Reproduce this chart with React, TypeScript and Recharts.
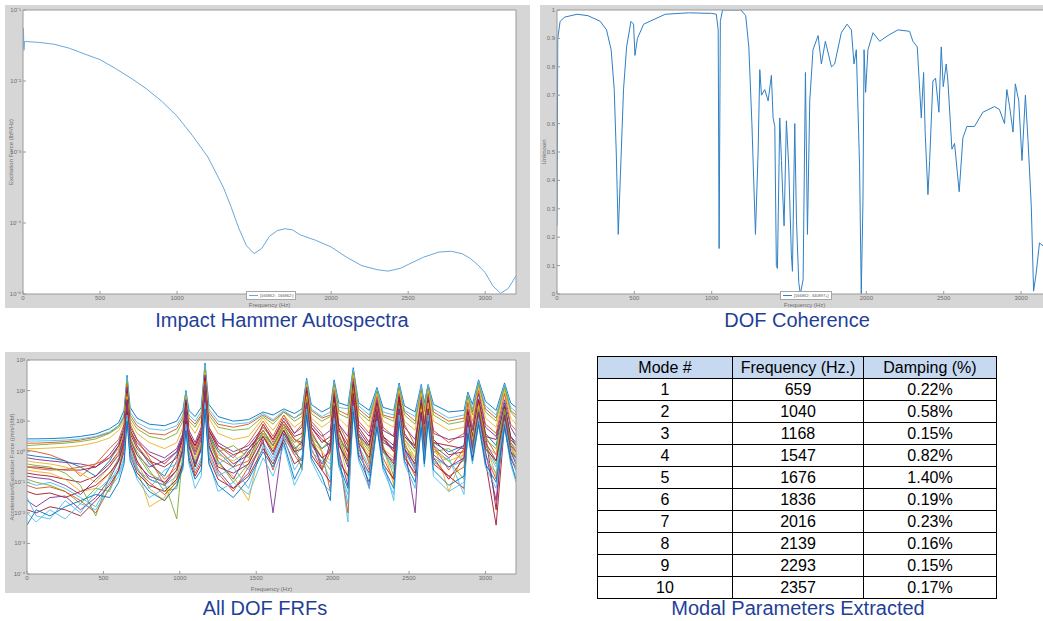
import { LineChart, Line, XAxis, YAxis, CartesianGrid, Legend } from "recharts";

const FONT = '"Liberation Sans", Arial, sans-serif';
const AXIS = "#9a9a9a";
const TICK_FILL = "#6e6e6e";
const PANEL = "#d6d6d6";
const TITLE = "#1f3f99";

const FREQ_TICKS = [0, 500, 1000, 1500, 2000, 2500, 3000];

// impact hammer autospectrum, lbf^2/Hz
const AUTO_FREQ = [
  0, 3, 6, 10, 100, 200, 300, 400, 500, 600,
  700, 800, 900, 1000, 1100, 1200, 1300, 1350, 1400, 1450,
  1500, 1550, 1600, 1650, 1700, 1750, 1800, 1900, 2000, 2100,
  2200, 2300, 2370, 2450, 2500, 2600, 2700, 2780, 2850, 2900,
  2950, 3000, 3050, 3100, 3150, 3200,
];
const AUTO_POWER = [
  0.03, 0.055, 0.027, 0.036, 0.035, 0.033, 0.029, 0.024, 0.02, 0.015,
  0.011, 0.0078, 0.0052, 0.0032, 0.0017, 0.00085, 0.00032, 0.00017, 0.000085, 0.000048,
  0.000037, 0.000044, 0.000065, 0.000078, 0.000083, 0.00008, 0.000068, 0.000057, 0.000046, 0.000033,
  0.000025, 0.000022, 0.000021, 0.000023, 0.000026, 0.000033, 0.000039, 0.00004, 0.000037, 0.000032,
  0.000026, 0.00002, 0.000013, 0.0000102, 0.000012, 0.000018,
];
const AUTO_TICKS = [1e-5, 1e-4, 1e-3, 1e-2, 1e-1];

// DOF coherence
const COH_FREQ = [
  0, 5, 20, 50, 130, 200, 280, 320, 350, 370,
  383, 396, 410, 430, 450, 478, 495, 504, 520, 560,
  700, 850, 1000, 1030, 1042, 1048, 1056, 1070, 1190, 1220,
  1240, 1260, 1283, 1300, 1311, 1322, 1343, 1365, 1386, 1397,
  1408, 1418, 1425, 1440, 1451, 1461, 1468, 1483, 1498, 1515,
  1522, 1537, 1548, 1563, 1573, 1591, 1606, 1619, 1634, 1655,
  1688, 1709, 1735, 1774, 1795, 1838, 1875, 1903, 1920, 1935,
  1956, 1967, 1978, 1985, 1995, 2010, 2043, 2086, 2139, 2204,
  2279, 2301, 2329, 2355, 2370, 2380, 2398, 2409, 2430, 2447,
  2469, 2484, 2497, 2516, 2527, 2553, 2570, 2600, 2624, 2650,
  2699, 2753, 2828, 2860, 2893, 2908, 2926, 2948, 2963, 2985,
  3006, 3028, 3045, 3066, 3081, 3097, 3119, 3140, 3170, 3200,
];
const COH_VALUE = [
  0.24, 0.9, 0.96, 0.975, 0.985, 0.98, 0.96, 0.93, 0.86, 0.72,
  0.5, 0.21, 0.42, 0.72, 0.87, 0.96, 0.95, 0.84, 0.9, 0.95,
  0.985, 0.99, 0.988, 0.985, 0.93, 0.16, 0.96, 1.0, 1.0, 0.98,
  0.87, 0.6, 0.21, 0.5, 0.79, 0.7, 0.72, 0.68, 0.77, 0.62,
  0.59, 0.1, 0.09, 0.62, 0.47, 0.33, 0.24, 0.61, 0.45, 0.14,
  0.08, 0.6, 0.26, 0.04, 0.0, 0.05, 0.78, 0.21, 0.68, 0.86,
  0.91, 0.81, 0.89, 0.8, 0.81, 0.92, 0.95, 0.93, 0.81, 0.86,
  0.45, 0.0, 0.33, 0.86, 0.71, 0.86, 0.92, 0.89, 0.91, 0.93,
  0.925, 0.89, 0.87, 0.62, 0.78, 0.57, 0.35, 0.47, 0.75, 0.76,
  0.64, 0.87, 0.73, 0.81, 0.75, 0.51, 0.53, 0.36, 0.55, 0.59,
  0.59, 0.64, 0.66, 0.65, 0.6, 0.72, 0.66, 0.57, 0.74, 0.68,
  0.47, 0.7, 0.54, 0.31, 0.01, 0.07, 0.18, 0.17, 0.2, 0.22,
];
const COH_TICKS = [0, 0.1, 0.2, 0.3, 0.4, 0.5, 0.6, 0.7, 0.8, 0.9, 1];

// FRFs: log10 of magnitude, one array per drawn DOF
const FRF_FREQ = [
  0, 60, 150, 250, 350, 450, 540, 600, 635, 655,
  675, 720, 800, 900, 980, 1020, 1040, 1060, 1100, 1140,
  1165, 1190, 1250, 1350, 1450, 1545, 1610, 1680, 1750, 1800,
  1830, 1860, 1930, 1985, 2010, 2040, 2100, 2135, 2170, 2240,
  2290, 2330, 2400, 2435, 2470, 2540, 2580, 2600, 2625, 2660,
  2760, 2860, 2885, 2915, 2955, 3000, 3070, 3125, 3165, 3200,
];
const frfBlueA = [
  0.35, 0.35, 0.36, 0.38, 0.42, 0.5, 0.65, 0.85, 1.2, 2.45,
  1.3, 0.95, 0.75, 0.7, 0.85, 1.2, 1.95, 1.2, 1.0, 1.3,
  2.85, 1.4, 1.0, 0.9, 0.95, 1.25, 1.05, 1.35, 1.1, 1.3,
  2.35, 1.4, 1.15, 1.3, 2.3, 1.45, 1.4, 2.7, 1.5, 1.2,
  2.05, 1.3, 1.2, 2.2, 1.35, 1.15, 2.15, 1.5, 2.2, 1.4,
  1.1, 1.2, 1.9, 1.4, 2.3, 1.5, 1.2, 2.2, 1.45, 1.3,
];
const frfOrangeA = [
  -0.5, -0.55, -0.6, -0.58, -0.5, -0.4, -0.2, 0.1, 0.6, 1.9,
  0.7, 0.2, -0.3, -0.9, -0.5, 0.3, 1.5, 0.5, 0.0, 0.5,
  2.3, 0.6, -0.2, -0.5, -0.3, 0.9, 0.3, 1.0, 0.4, 0.2,
  1.9, 0.7, 0.0, -1.3, 1.6, 0.6, -0.2, 2.1, 0.6, -0.4,
  1.5, 0.4, 0.0, 1.6, 0.3, -0.5, 1.5, 0.6, 1.5, 0.2,
  -0.6, 0.1, 1.2, 0.3, 1.6, 0.5, -0.1, 1.4, 0.3, 0.0,
];
const frfYellowA = [
  -0.3, -0.35, -0.4, -0.5, -0.7, -1.0, -0.5, 0.0, 0.6, 1.8,
  0.5, -0.3, -1.2, -1.6, -0.9, 0.1, 1.4, 0.4, -0.2, 0.3,
  2.1, 0.4, -0.4, -0.8, -1.6, 0.6, 0.1, 0.8, 0.3, 0.5,
  1.8, 0.6, -0.5, 0.2, 1.5, 0.4, -0.9, 1.9, 0.5, 0.1,
  1.4, 0.2, -1.1, 1.5, 0.4, -0.2, 1.4, 0.2, 1.6, 0.3,
  -1.3, 0.0, 1.1, 0.4, 1.5, 0.3, -0.8, 1.3, 0.2, -0.2,
];
const frfPurpleA = [
  -1.6, -1.8, -1.5, -1.45, -1.9, -1.5, -0.9, -0.3, 0.4, 1.6,
  0.2, -0.4, -0.8, -1.0, -0.6, 0.0, 1.3, 0.2, -0.4, 0.1,
  1.9, 0.2, -0.6, -1.2, -0.7, 0.4, -2.0, 0.6, 0.0, -0.3,
  1.6, 0.3, -0.4, 0.1, 1.4, 0.0, -1.1, 1.7, 0.3, -1.2,
  1.2, 0.0, -0.3, 1.4, 0.1, -0.6, 1.2, 0.0, 1.3, -0.1,
  -0.5, -0.2, 1.0, 0.1, 1.3, 0.0, -1.6, 1.2, 0.0, -0.4,
];
const frfGreenA = [
  -0.9, -1.0, -1.1, -1.3, -1.7, -1.2, -1.3, -0.6, 0.3, 1.7,
  0.4, 0.0, -0.6, -1.3, -1.2, -0.3, 1.2, 0.3, -0.5, 0.2,
  2.0, 0.3, -0.3, -1.0, -0.4, 0.7, 0.2, 0.9, 0.0, 0.4,
  1.7, 0.4, -0.2, -0.6, 1.5, 0.5, -0.4, 1.8, 0.4, -0.3,
  1.3, 0.1, -0.5, 1.5, 0.2, -0.3, 1.3, 0.3, 1.4, 0.1,
  -0.3, -0.9, 1.0, 0.2, 1.4, 0.2, -0.4, 1.3, 0.1, -0.2,
];
const frfCyanA = [
  -1.5, -2.1, -2.2, -1.6, -2.0, -1.3, -0.9, -0.7, -0.2, 1.2,
  -0.1, -0.6, -0.9, -1.1, -0.8, -0.3, 0.9, -0.1, -0.6, -0.2,
  1.6, -0.1, -0.8, -0.5, -1.2, 0.2, -0.3, 0.5, -0.6, -0.2,
  1.4, 0.0, -0.3, -0.9, 1.1, -0.2, -1.7, 1.5, 0.0, -0.8,
  1.0, -0.3, -1.6, 1.2, 0.0, -0.6, 1.0, -0.2, 1.2, -0.4,
  -0.2, -1.4, 0.8, -0.1, 1.1, -0.2, -0.7, 1.0, -0.1, -0.6,
];
const frfRedA = [
  -0.7, -0.75, -0.8, -0.9, -1.0, -0.8, -0.4, 0.0, 0.5, 1.9,
  0.6, 0.1, -0.3, -0.5, -0.2, 0.4, 1.6, 0.5, 0.2, 0.6,
  2.4, 0.7, 0.1, -0.4, -0.1, 0.9, 0.4, 1.0, 0.5, 0.6,
  2.0, 0.8, 0.3, 0.5, 1.8, 0.8, 0.0, 2.2, 0.7, 0.2,
  1.6, 0.5, 0.2, 1.8, 0.6, 0.1, 1.6, 0.7, 1.7, 0.4,
  -0.1, 0.0, 1.3, 0.5, 1.7, 0.6, -1.9, 1.5, 0.4, 0.2,
];
const frfBlueB = [
  0.42, 0.42, 0.43, 0.45, 0.5, 0.58, 0.75, 0.95, 1.35, 2.5,
  1.45, 1.1, 0.9, 0.85, 1.0, 1.35, 2.0, 1.35, 1.15, 1.45,
  2.9, 1.55, 1.15, 1.0, 1.05, 1.3, 1.2, 1.4, 1.25, 1.4,
  2.4, 1.55, 1.3, 1.45, 2.35, 1.6, 1.5, 2.75, 1.6, 1.35,
  2.1, 1.45, 1.35, 2.25, 1.5, 1.3, 2.2, 1.6, 2.2, 1.55,
  1.3, 1.35, 1.95, 1.55, 2.35, 1.65, 1.35, 2.25, 1.6, 1.45,
];
const frfOrangeB = [
  -1.1, -1.2, -1.15, -1.3, -1.6, -2.0, -1.2, -0.6, 0.2, 1.5,
  0.0, -0.6, -1.0, -1.4, -1.0, -0.4, 1.1, 0.0, -0.7, -0.3,
  1.7, 0.0, -0.7, -1.3, -0.5, 0.3, -0.6, 0.5, -0.1, -0.5,
  1.5, 0.1, -0.6, 0.0, 1.2, -0.1, -2.0, 1.6, 0.1, -0.6,
  1.1, -0.2, -0.9, 1.3, -0.1, -0.8, 1.1, -0.1, 1.2, -0.3,
  -0.8, -0.5, 0.9, 0.0, 1.2, -0.1, -0.9, 1.1, -0.2, -0.5,
];
const frfYellowB = [
  0.1, 0.1, 0.12, 0.15, 0.2, 0.3, 0.45, 0.7, 1.0, 2.2,
  1.0, 0.6, 0.3, 0.1, 0.3, 0.8, 1.8, 0.9, 0.6, 1.0,
  2.6, 1.1, 0.6, 0.4, 0.5, 1.1, 0.7, 1.2, 0.8, 1.0,
  2.2, 1.1, 0.8, 1.0, 2.1, 1.1, 0.8, 2.5, 1.2, 0.8,
  1.9, 1.0, 0.8, 2.0, 1.0, 0.7, 1.9, 1.1, 2.0, 1.0,
  0.7, 0.8, 1.7, 1.0, 2.1, 1.1, 0.8, 2.0, 1.1, 0.9,
];
const frfPurpleB = [
  -0.2, -0.25, -0.3, -0.35, -0.4, -0.5, -0.1, 0.3, 0.8, 2.1,
  0.8, 0.4, 0.0, -0.2, 0.1, 0.6, 1.7, 0.7, 0.3, 0.8,
  2.5, 0.8, 0.3, 0.0, 0.2, 0.8, 0.4, 1.1, 0.6, 0.8,
  2.1, 0.9, 0.5, 0.7, 1.9, 0.9, 0.5, 2.3, 0.9, 0.5,
  1.7, 0.7, 0.5, 1.8, 0.8, 0.4, 1.7, 0.9, 1.8, 0.6,
  0.4, 0.5, 1.4, 0.7, 1.9, 0.8, 0.5, 1.7, 0.8, 0.5,
];
const frfGreenB = [
  0.2, 0.22, 0.25, 0.28, 0.33, 0.42, 0.6, 0.8, 1.1, 2.3,
  1.1, 0.75, 0.5, 0.4, 0.6, 1.0, 1.85, 1.0, 0.8, 1.15,
  2.7, 1.2, 0.8, 0.7, 0.75, 1.15, 0.9, 1.3, 1.0, 1.15,
  2.25, 1.25, 1.0, 1.15, 2.2, 1.25, 1.1, 2.6, 1.3, 1.0,
  1.95, 1.15, 1.0, 2.1, 1.2, 0.9, 2.0, 1.3, 2.1, 1.2,
  0.9, 1.0, 1.8, 1.2, 2.2, 1.3, 1.0, 2.1, 1.3, 1.1,
];
const frfCyanB = [
  -2.4, -1.9, -2.1, -1.8, -1.6, -1.4, -1.5, -1.0, -0.4, 1.0,
  -0.3, -0.8, -1.3, -1.6, -1.1, -0.5, 0.7, -0.3, -0.9, -0.6,
  1.4, -0.4, -1.1, -1.5, -0.9, 0.0, -0.5, 0.3, -0.9, -0.4,
  1.2, -0.2, -0.8, -1.6, 0.9, -0.4, -1.2, 1.3, -0.2, -1.0,
  0.8, -0.5, -1.2, 1.0, -0.3, -1.0, 0.8, -0.4, 1.0, -0.6,
  -1.1, -0.8, 0.6, -0.3, 0.9, -0.4, -1.0, 0.8, -0.3, -0.9,
];
const frfRedB = [
  -0.5, -0.5, -0.55, -0.6, -0.6, -0.5, -0.2, 0.2, 0.7, 2.0,
  0.7, 0.3, -0.1, -0.4, 0.0, 0.5, 1.6, 0.6, 0.2, 0.7,
  2.4, 0.7, 0.2, -0.1, 0.1, 0.7, 0.2, 0.9, 0.4, 0.3,
  1.9, 0.8, 0.4, 0.2, 1.7, 0.7, 0.2, 2.1, 0.8, 0.3,
  1.5, 0.5, 0.0, 1.7, 0.5, 0.2, 1.5, -0.3, 1.6, 0.3,
  0.2, 0.1, 1.3, 0.4, 1.7, 0.5, 0.4, 1.5, 0.5, 0.3,
];
const frfOrangeC = [
  0.05, 0.0, -0.1, -0.3, -0.8, -0.4, 0.1, 0.4, 0.9, 2.2,
  0.9, 0.4, -0.2, -1.1, -0.3, 0.5, 1.7, 0.6, 0.1, 0.6,
  2.5, 0.8, 0.2, -0.2, 0.3, 1.0, 0.5, 1.2, 0.6, 0.9,
  2.1, 1.0, 0.6, 0.0, 2.0, 0.9, 0.3, 2.4, 1.0, 0.6,
  1.8, 0.8, 0.5, 1.9, 0.9, 0.2, 1.8, 0.9, 1.9, 0.7,
  0.3, 0.6, 1.6, 0.8, 2.0, 0.9, 0.6, 1.9, 0.9, 0.7,
];
const frfGreenC = [
  -0.4, -0.45, -0.5, -0.7, -1.1, -2.1, -0.8, -0.2, 0.5, 1.8,
  0.5, -0.1, -0.7, -1.0, -2.2, 0.0, 1.4, 0.3, -0.4, 0.3,
  2.2, 0.5, 0.0, 0.2, -0.2, 0.6, 0.0, 0.8, 0.2, -0.6,
  1.8, 0.5, 0.1, 0.4, 1.6, 0.3, 0.1, 2.0, 0.5, 0.0,
  1.4, 0.2, -0.8, 1.5, 0.4, 0.0, 1.4, 0.4, 1.5, 0.0,
  0.1, -0.3, 1.1, 0.3, 1.5, 0.4, 0.1, 1.4, 0.3, 0.1,
];
const frfPurpleC = [
  -0.8, -0.85, -0.9, -1.1, -1.4, -0.9, -0.5, -0.1, 0.5, 1.7,
  0.4, -0.1, -0.5, -0.3, 0.0, 0.5, 1.5, 0.4, -0.1, 0.4,
  2.2, 0.5, -0.3, -0.9, 0.0, 0.5, -0.1, 0.7, 0.1, 0.3,
  1.7, 0.5, -0.6, 0.3, 1.5, 0.3, -0.5, 1.9, 0.5, 0.2,
  1.4, 0.3, 0.1, 1.6, 0.2, -2.0, 1.3, 0.4, 1.4, 0.2,
  -0.2, 0.2, 1.1, 0.2, 1.4, 0.3, -0.3, 1.3, 0.2, 0.0,
];
const frfCyanC = [
  -1.0, -1.1, -1.0, -1.2, -1.5, -1.8, -1.0, -0.5, 0.1, 1.4,
  0.1, -0.5, -1.2, -0.6, -0.4, 0.1, 1.2, 0.1, -0.3, 0.0,
  1.8, 0.1, -0.4, -0.1, -0.6, 0.3, -0.2, 0.6, -0.1, 0.1,
  1.5, 0.2, -0.2, -0.4, 1.3, 0.1, -2.3, 1.6, 0.2, -0.5,
  1.1, 0.0, -0.6, 1.3, 0.0, -0.4, 1.1, 0.1, 1.3, -0.2,
  -0.5, -0.3, 0.9, 0.0, 1.2, 0.1, -0.5, 1.1, 0.0, -0.3,
];
const frfYellowC = [
  -0.6, -0.65, -0.7, -0.9, -1.3, -1.2, -0.7, -0.3, 0.3, 1.6,
  0.3, -0.5, -1.8, -1.5, -0.7, 0.2, 1.4, 0.2, -0.3, 0.2,
  2.0, 0.3, -0.1, -0.3, 0.0, 0.5, 0.1, 0.7, 0.0, 0.2,
  1.6, 0.4, 0.0, -0.3, 1.4, 0.3, -0.2, 1.8, 0.4, -0.1,
  1.3, 0.1, -0.2, 1.4, 0.2, -0.2, 1.3, 0.2, 1.4, 0.0,
  -0.3, -0.1, 1.0, 0.2, 1.4, 0.2, -0.1, 1.2, 0.2, -0.1,
];
const frfRedC = [
  -1.3, -1.4, -1.35, -1.5, -1.3, -1.1, -0.7, -0.3, 0.3, 1.7,
  0.3, -0.3, -0.9, -1.1, -0.6, 0.1, 1.3, 0.2, -0.5, 0.1,
  2.0, 0.2, -0.5, -0.7, -0.4, 0.5, 0.0, 0.7, 0.0, 0.1,
  1.6, 0.3, -0.2, 0.0, 1.5, 0.2, -0.3, 1.9, 0.3, -0.2,
  1.3, 0.1, -0.4, 1.4, 0.1, -0.4, 1.3, 0.1, 1.4, -0.2,
  -0.9, -0.2, 1.0, 0.0, 1.3, 0.1, -0.3, 1.2, 0.0, -0.2,
];
const frfBlueC = [
  -0.1, -0.15, -0.2, -0.3, -0.5, -0.8, -0.3, 0.2, 0.7, 2.0,
  0.7, 0.2, -0.4, -0.8, -0.1, 0.5, 1.6, 0.5, 0.0, 0.5,
  2.3, 0.6, 0.0, -0.5, 0.1, 0.6, 0.2, 0.8, 0.3, 0.5,
  1.9, 0.6, 0.1, 0.3, 1.8, 0.5, 0.0, 2.2, 0.6, 0.1,
  1.6, 0.4, 0.1, 1.7, 0.5, 0.1, 1.6, 0.5, 1.7, 0.3,
  0.0, 0.2, 1.3, 0.5, 1.7, 0.6, 0.2, 1.6, 0.5, 0.2,
];
const frfRedD = [
  -1.9, -2.0, -1.8, -1.9, -2.1, -1.6, -1.1, -0.6, 0.0, 1.3,
  -0.1, -0.7, -1.1, -1.3, -0.9, -0.4, 1.0, -0.2, -0.8, -0.4,
  1.6, -0.2, -0.9, -1.2, -0.8, 0.1, -0.4, 0.4, -0.4, -0.2,
  1.3, -0.1, -0.6, -1.0, 1.1, -0.3, -0.8, 1.4, -0.1, -0.7,
  0.9, -0.4, -0.9, 1.1, -0.2, -0.7, 1.0, -0.3, 1.1, -0.4,
  -0.8, -1.2, 0.7, -0.2, 1.0, -0.3, -2.4, 0.9, -0.2, -0.6,
];
const frfOrangeD = [
  0.28, 0.28, 0.3, 0.33, 0.38, 0.48, 0.62, 0.85, 1.15, 2.35,
  1.2, 0.85, 0.6, 0.55, 0.75, 1.1, 1.9, 1.1, 0.9, 1.2,
  2.75, 1.3, 0.9, 0.8, 0.9, 1.2, 1.0, 1.3, 1.1, 1.25,
  2.3, 1.35, 1.1, 1.2, 2.25, 1.35, 1.2, 2.65, 1.4, 1.1,
  2.0, 1.2, 1.1, 2.15, 1.3, 1.0, 2.1, 1.4, 2.15, 1.3,
  1.0, 1.1, 1.85, 1.3, 2.25, 1.4, 1.1, 2.15, 1.35, 1.2,
];
const frfCyanD = [
  -2.0, -2.3, -1.9, -2.2, -1.7, -1.9, -1.2, -0.8, -0.3, 1.1,
  -0.2, -0.9, -1.5, -1.2, -1.0, -0.6, 0.8, -0.4, -1.2, -0.8,
  1.5, -0.3, -1.3, -1.0, -1.4, -0.2, -0.8, 0.2, -1.1, -0.6,
  1.2, -0.3, -1.0, -1.3, 1.0, -0.5, -1.4, 1.2, -0.3, -1.2,
  0.8, -0.6, -1.4, 1.0, -0.4, -1.2, 0.8, -0.5, 1.0, -0.8,
  -1.3, -1.0, 0.6, -0.4, 0.9, -0.5, -1.2, 0.8, -0.4, -1.0,
];
const FRF_TICKS = [1e-4, 1e-3, 1e-2, 1e-1, 1, 10, 100, 1000];

const FRF_LINES = [
  { key: "blueB", color: "#0072BD", values: frfBlueB },
  { key: "orangeD", color: "#D95319", values: frfOrangeD },
  { key: "blueA", color: "#4DBEEE", values: frfBlueA },
  { key: "greenB", color: "#77AC30", values: frfGreenB },
  { key: "yellowB", color: "#EDB120", values: frfYellowB },
  { key: "orangeC", color: "#D95319", values: frfOrangeC },
  { key: "purpleB", color: "#7E2F8E", values: frfPurpleB },
  { key: "blueC", color: "#0072BD", values: frfBlueC },
  { key: "redA", color: "#A2142F", values: frfRedA },
  { key: "redB", color: "#A2142F", values: frfRedB },
  { key: "orangeA", color: "#D95319", values: frfOrangeA },
  { key: "greenC", color: "#77AC30", values: frfGreenC },
  { key: "yellowA", color: "#EDB120", values: frfYellowA },
  { key: "yellowC", color: "#EDB120", values: frfYellowC },
  { key: "purpleC", color: "#7E2F8E", values: frfPurpleC },
  { key: "greenA", color: "#77AC30", values: frfGreenA },
  { key: "cyanC", color: "#4DBEEE", values: frfCyanC },
  { key: "redC", color: "#A2142F", values: frfRedC },
  { key: "orangeB", color: "#D95319", values: frfOrangeB },
  { key: "purpleA", color: "#7E2F8E", values: frfPurpleA },
  { key: "redD", color: "#A2142F", values: frfRedD },
  { key: "cyanA", color: "#4DBEEE", values: frfCyanA },
  { key: "cyanD", color: "#4DBEEE", values: frfCyanD },
  { key: "cyanB", color: "#0072BD", values: frfCyanB },
];

// modal table
const MODE_NUM = [1, 2, 3, 4, 5, 6, 7, 8, 9, 10];
const MODE_FREQ = [659, 1040, 1168, 1547, 1676, 1836, 2016, 2139, 2293, 2357];
const MODE_DAMPING = [0.22, 0.58, 0.15, 0.82, 1.4, 0.19, 0.23, 0.16, 0.15, 0.17];

const autoData = AUTO_FREQ.map((f, i) => ({ f, v: AUTO_POWER[i] }));
const cohData = COH_FREQ.map((f, i) => ({ f, v: COH_VALUE[i] }));
const frfData = FRF_FREQ.map((f, i) => {
  const row: Record<string, number> = { f };
  FRF_LINES.forEach((l) => (row[l.key] = Math.pow(10, l.values[i])));
  return row;
});

const SUP: Record<string, string> = {
  "-": "⁻", "0": "⁰", "1": "¹", "2": "²", "3": "³", "4": "⁴", "5": "⁵", "6": "⁶", "7": "⁷", "8": "⁸", "9": "⁹",
};
const pow10 = (v: number) =>
  "10" + String(Math.round(Math.log10(v))).split("").map((c) => SUP[c]).join("");
const plain = (v: number) => String(v);

// tick text drawn by hand so every tick, including the one at the top edge, is shown
const xTick = (props: any) => (
  <text x={props.x} y={props.y} dy={4} textAnchor="middle" fontSize={6} fill={TICK_FILL} fontFamily={FONT}>
    {props.payload.value}
  </text>
);
const yTick = (fmt: (v: number) => string) => (props: any) => (
  <text x={props.x} y={props.y} dy={2} textAnchor="end" fontSize={6} fill={TICK_FILL} fontFamily={FONT}>
    {fmt(props.payload.value)}
  </text>
);

function BoxLegend({ payload }: { payload?: Array<{ value: string; color?: string }> }) {
  return (
    <div
      style={{
        display: "inline-flex",
        alignItems: "center",
        background: "#fff",
        border: "1px solid #a6a6a6",
        padding: "1px 2px",
        fontSize: 4,
        lineHeight: "5px",
        color: "#555",
        fontFamily: FONT,
        whiteSpace: "nowrap",
      }}
    >
      {(payload ?? []).map((p) => (
        <span key={p.value} style={{ display: "inline-flex", alignItems: "center", gap: 2 }}>
          <svg width={9} height={3}>
            <line x1={0} y1={1.5} x2={9} y2={1.5} stroke={p.color} strokeWidth={1} />
          </svg>
          {p.value}
        </span>
      ))}
    </div>
  );
}

const panel = (left: number, top: number, width: number, height: number) => ({
  position: "absolute" as const,
  left,
  top,
  width,
  height,
  background: PANEL,
  overflow: "hidden" as const,
});

const title = (cx: number, top: number) => ({
  position: "absolute" as const,
  left: cx - 200,
  top,
  width: 400,
  height: 20,
  lineHeight: "20px",
  textAlign: "center" as const,
  fontSize: 20,
  color: TITLE,
  fontFamily: FONT,
  whiteSpace: "nowrap" as const,
});

function Autospectra() {
  return (
    <LineChart width={525} height={303} data={autoData} margin={{ top: 4, right: 13, bottom: 0, left: 0 }}>
      <CartesianGrid fill="#fff" horizontal={false} vertical={false} />
      <XAxis dataKey="f" type="number" domain={[0, 3200]} ticks={FREQ_TICKS} interval={0} allowDataOverflow height={14}
        stroke={AXIS} tickSize={-3} tickMargin={5} tick={xTick}
        label={{ value: "Frequency (Hz)", position: "insideBottom", offset: 1, fontSize: 6, fill: TICK_FILL }} />
      <XAxis xAxisId="top" orientation="top" type="number" domain={[0, 3200]} ticks={FREQ_TICKS} interval={0} allowDataOverflow
        height={1} stroke={AXIS} tickSize={-3} tick={false} />
      <YAxis scale="log" type="number" domain={[1e-5, 1e-1]} ticks={AUTO_TICKS} interval={0} allowDataOverflow width={18}
        stroke={AXIS} tickSize={-3} tickMargin={5} tick={yTick(pow10)}
        label={{ value: "Excitation Force (lbf²/Hz)", angle: -90, position: "insideLeft", offset: 6, fontSize: 6, fill: TICK_FILL, style: { textAnchor: "middle" } }} />
      <YAxis yAxisId="right" orientation="right" scale="log" type="number" domain={[1e-5, 1e-1]} ticks={AUTO_TICKS} interval={0}
        allowDataOverflow width={1} stroke={AXIS} tickSize={-3} tick={false} />
      <Line dataKey="v" name="[166862:, 166862:]" stroke="#6aa8dc" strokeWidth={1} dot={false} isAnimationActive={false} />
      <Legend verticalAlign="middle" align="center" content={<BoxLegend />}
        wrapperStyle={{ left: 241, top: 278, width: "auto", height: "auto" }} />
    </LineChart>
  );
}

function Coherence() {
  return (
    <LineChart width={520} height={303} data={cohData} margin={{ top: 4, right: 7, bottom: 0, left: 0 }}>
      <CartesianGrid fill="#fff" horizontal={false} vertical={false} />
      <XAxis dataKey="f" type="number" domain={[0, 3200]} ticks={FREQ_TICKS} interval={0} allowDataOverflow height={14}
        stroke={AXIS} tickSize={-3} tickMargin={5} tick={xTick}
        label={{ value: "Frequency (Hz)", position: "insideBottom", offset: 1, fontSize: 6, fill: TICK_FILL }} />
      <XAxis xAxisId="top" orientation="top" type="number" domain={[0, 3200]} ticks={FREQ_TICKS} interval={0} allowDataOverflow
        height={1} stroke={AXIS} tickSize={-3} tick={false} />
      <YAxis type="number" domain={[0, 1]} ticks={COH_TICKS} interval={0} allowDataOverflow width={17}
        stroke={AXIS} tickSize={-3} tickMargin={5} tick={yTick(plain)}
        label={{ value: "Unknown", angle: -90, position: "insideLeft", offset: 4, fontSize: 6, fill: TICK_FILL, style: { textAnchor: "middle" } }} />
      <YAxis yAxisId="right" orientation="right" type="number" domain={[0, 1]} ticks={COH_TICKS} interval={0}
        allowDataOverflow width={1} stroke={AXIS} tickSize={-3} tick={false} />
      <Line dataKey="v" name="[166862:, 340897+]" stroke="#2f7fc4" strokeWidth={1} dot={false} isAnimationActive={false} />
      <Legend verticalAlign="middle" align="center" content={<BoxLegend />}
        wrapperStyle={{ left: 240, top: 278, width: "auto", height: "auto" }} />
    </LineChart>
  );
}

function AllFrfs() {
  return (
    <LineChart width={525} height={241} data={frfData} margin={{ top: 7, right: 13, bottom: 0, left: 0 }}>
      <CartesianGrid fill="#fff" horizontal={false} vertical={false} />
      <XAxis dataKey="f" type="number" domain={[0, 3200]} ticks={FREQ_TICKS} interval={0} allowDataOverflow height={19}
        stroke={AXIS} tickSize={-3} tickMargin={5} tick={xTick}
        label={{ value: "Frequency (Hz)", position: "insideBottom", offset: 2, fontSize: 6, fill: TICK_FILL }} />
      <XAxis xAxisId="top" orientation="top" type="number" domain={[0, 3200]} ticks={FREQ_TICKS} interval={0} allowDataOverflow
        height={1} stroke={AXIS} tickSize={-3} tick={false} />
      <YAxis scale="log" type="number" domain={[1e-4, 1e3]} ticks={FRF_TICKS} interval={0} allowDataOverflow width={22}
        stroke={AXIS} tickSize={-3} tickMargin={5} tick={yTick(pow10)}
        label={{ value: "Acceleration/Excitation Force ((m/s²)/lbf)", angle: -90, position: "insideLeft", offset: 7, fontSize: 6, fill: TICK_FILL, style: { textAnchor: "middle" } }} />
      <YAxis yAxisId="right" orientation="right" scale="log" type="number" domain={[1e-4, 1e3]} ticks={FRF_TICKS} interval={0}
        allowDataOverflow width={1} stroke={AXIS} tickSize={-3} tick={false} />
      {FRF_LINES.map((l) => (
        <Line key={l.key} dataKey={l.key} stroke={l.color} strokeWidth={0.9} dot={false} isAnimationActive={false} />
      ))}
    </LineChart>
  );
}

const cell = {
  border: "1px solid #000",
  padding: 0,
  textAlign: "center" as const,
  fontSize: 16,
  lineHeight: "20px",
  height: 21,
};

function ModalTable() {
  return (
    <table
      style={{
        position: "absolute",
        left: 597,
        top: 356,
        borderCollapse: "collapse",
        fontFamily: FONT,
        color: "#000",
        tableLayout: "fixed",
        width: 399,
      }}
    >
      <colgroup>
        <col style={{ width: 135 }} />
        <col style={{ width: 131 }} />
        <col style={{ width: 133 }} />
      </colgroup>
      <thead>
        <tr style={{ background: "#c6d9f0" }}>
          <th style={{ ...cell, fontWeight: 400 }}>Mode #</th>
          <th style={{ ...cell, fontWeight: 400 }}>Frequency (Hz.)</th>
          <th style={{ ...cell, fontWeight: 400 }}>Damping (%)</th>
        </tr>
      </thead>
      <tbody>
        {MODE_NUM.map((m, i) => (
          <tr key={m}>
            <td style={cell}>{m}</td>
            <td style={cell}>{MODE_FREQ[i]}</td>
            <td style={cell}>{MODE_DAMPING[i].toFixed(2)}%</td>
          </tr>
        ))}
      </tbody>
    </table>
  );
}

export default function App() {
  return (
    <div style={{ position: "absolute", left: 0, top: 0, width: 1043, height: 621, background: "#fff", overflow: "hidden", fontFamily: FONT }}>
      <div style={panel(5, 5, 525, 303)}>
        <Autospectra />
      </div>
      <div style={panel(540, 5, 503, 303)}>
        <Coherence />
      </div>
      <div style={panel(5, 352, 525, 241)}>
        <AllFrfs />
      </div>
      <ModalTable />
      <div style={title(282, 310)}>Impact Hammer Autospectra</div>
      <div style={title(797, 310)}>DOF Coherence</div>
      <div style={title(265, 598)}>All DOF FRFs</div>
      <div style={title(798, 598)}>Modal Parameters Extracted</div>
    </div>
  );
}
